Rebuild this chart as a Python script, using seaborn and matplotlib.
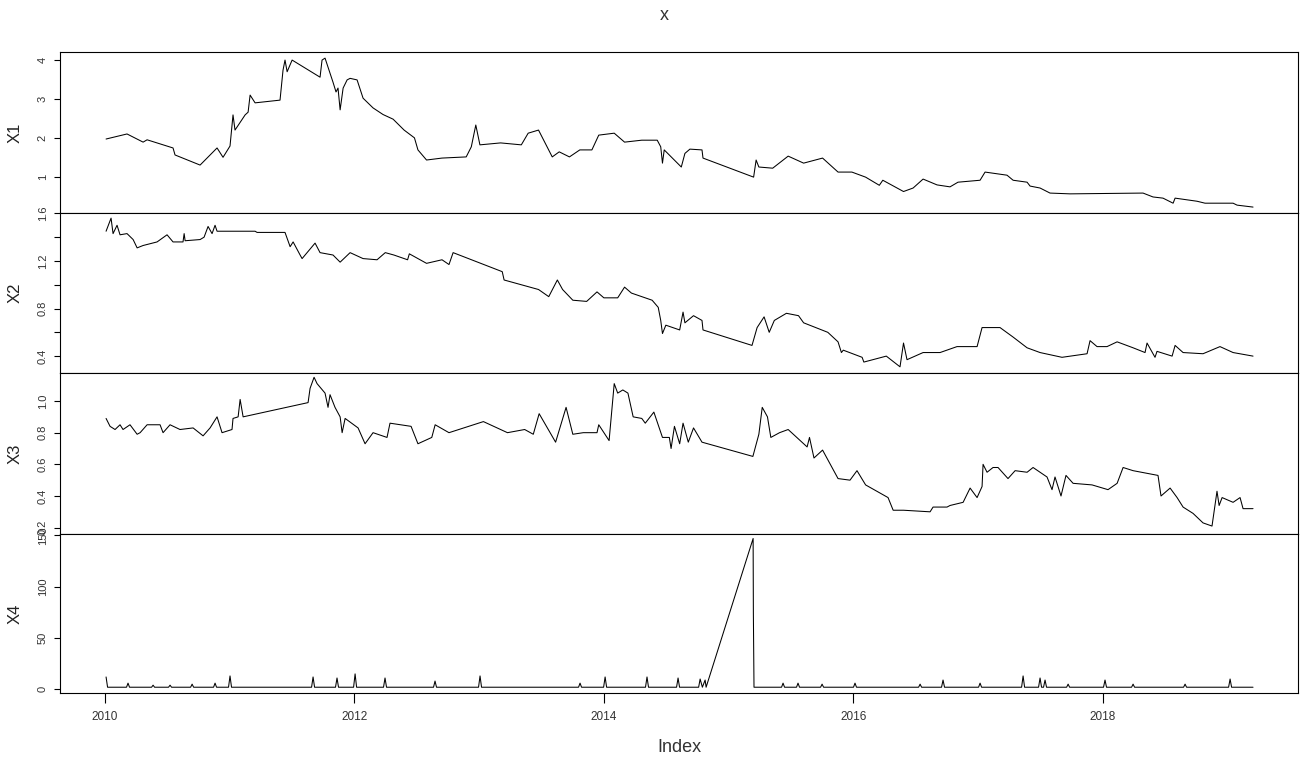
import pandas as pd
import seaborn as sns
import matplotlib.pyplot as plt
from matplotlib import font_manager
from matplotlib.ticker import FixedLocator, FormatStrFormatter

# decimal years and values, one pair of lists per series
x1_year = [
    2010.008, 2010.176, 2010.305, 2010.337, 2010.545, 2010.561, 2010.762, 2010.898, 2010.946, 2011.002,
    2011.026, 2011.042, 2011.123, 2011.147, 2011.163, 2011.203, 2011.403, 2011.427, 2011.443, 2011.460,
    2011.500, 2011.724, 2011.740, 2011.764, 2011.828, 2011.852, 2011.868, 2011.885, 2011.909, 2011.941,
    2011.965, 2012.021, 2012.069, 2012.149, 2012.229, 2012.310, 2012.398, 2012.481, 2012.509, 2012.578,
    2012.702, 2012.896, 2012.937, 2012.973, 2013.006, 2013.172, 2013.338, 2013.393, 2013.476, 2013.586,
    2013.642, 2013.724, 2013.807, 2013.904, 2013.959, 2014.083, 2014.166, 2014.304, 2014.428, 2014.456,
    2014.470, 2014.484, 2014.621, 2014.650, 2014.690, 2014.787, 2014.795, 2015.201, 2015.221, 2015.243,
    2015.354, 2015.478, 2015.602, 2015.754, 2015.878, 2015.989, 2016.099, 2016.209, 2016.237, 2016.403,
    2016.480, 2016.560, 2016.672, 2016.776, 2016.840, 2017.017, 2017.057, 2017.233, 2017.282, 2017.394,
    2017.418, 2017.498, 2017.578, 2017.739, 2018.324, 2018.404, 2018.484, 2018.565, 2018.581, 2018.757,
    2018.821, 2019.046, 2019.078, 2019.206]
x1_value = [
    1.97, 2.10, 1.89, 1.95, 1.74, 1.56, 1.30, 1.74, 1.50, 1.79,
    2.59, 2.20, 2.59, 2.66, 3.10, 2.90, 2.97, 3.74, 4.00, 3.70,
    4.00, 3.56, 4.00, 4.05, 3.43, 3.18, 3.28, 2.72, 3.28, 3.49,
    3.53, 3.49, 3.02, 2.77, 2.60, 2.48, 2.20, 2.00, 1.69, 1.43,
    1.48, 1.51, 1.77, 2.33, 1.82, 1.87, 1.82, 2.12, 2.20, 1.51,
    1.64, 1.51, 1.69, 1.69, 2.07, 2.12, 1.89, 1.94, 1.94, 1.77,
    1.35, 1.69, 1.25, 1.60, 1.71, 1.69, 1.48, 0.99, 1.43, 1.25,
    1.22, 1.53, 1.35, 1.48, 1.12, 1.12, 0.99, 0.78, 0.91, 0.62,
    0.71, 0.94, 0.79, 0.74, 0.86, 0.91, 1.12, 1.04, 0.91, 0.86,
    0.76, 0.71, 0.58, 0.56, 0.58, 0.48, 0.45, 0.32, 0.45, 0.37,
    0.32, 0.32, 0.27, 0.22]

x2_year = [
    2010.008, 2010.048, 2010.064, 2010.096, 2010.120, 2010.176, 2010.225, 2010.257, 2010.305, 2010.417,
    2010.497, 2010.545, 2010.625, 2010.634, 2010.642, 2010.762, 2010.794, 2010.826, 2010.858, 2010.882,
    2010.898, 2011.203, 2011.219, 2011.443, 2011.484, 2011.508, 2011.564, 2011.580, 2011.620, 2011.684,
    2011.724, 2011.828, 2011.885, 2011.965, 2012.069, 2012.181, 2012.247, 2012.316, 2012.426, 2012.440,
    2012.578, 2012.702, 2012.758, 2012.791, 2013.185, 2013.200, 2013.338, 2013.476, 2013.558, 2013.627,
    2013.669, 2013.751, 2013.862, 2013.945, 2014.000, 2014.111, 2014.166, 2014.221, 2014.387, 2014.436,
    2014.456, 2014.470, 2014.497, 2014.608, 2014.635, 2014.650, 2014.719, 2014.787, 2014.795, 2015.188,
    2015.229, 2015.285, 2015.326, 2015.367, 2015.464, 2015.561, 2015.602, 2015.796, 2015.878, 2015.905,
    2015.920, 2016.071, 2016.085, 2016.265, 2016.375, 2016.403, 2016.431, 2016.560, 2016.696, 2016.832,
    2016.993, 2017.033, 2017.177, 2017.282, 2017.394, 2017.498, 2017.674, 2017.875, 2017.899, 2017.955,
    2018.035, 2018.116, 2018.244, 2018.340, 2018.356, 2018.420, 2018.436, 2018.557, 2018.581, 2018.645,
    2018.805, 2018.941, 2019.046, 2019.206]
x2_value = [
    1.45, 1.56, 1.43, 1.50, 1.42, 1.43, 1.38, 1.31, 1.33, 1.36,
    1.42, 1.36, 1.36, 1.43, 1.37, 1.38, 1.40, 1.49, 1.43, 1.50,
    1.45, 1.45, 1.44, 1.44, 1.32, 1.36, 1.25, 1.22, 1.27, 1.35,
    1.27, 1.25, 1.19, 1.27, 1.22, 1.21, 1.27, 1.25, 1.21, 1.26,
    1.18, 1.21, 1.17, 1.27, 1.11, 1.04, 1.00, 0.96, 0.90, 1.04,
    0.96, 0.87, 0.86, 0.94, 0.89, 0.89, 0.98, 0.93, 0.87, 0.81,
    0.70, 0.59, 0.66, 0.62, 0.77, 0.68, 0.74, 0.70, 0.62, 0.49,
    0.64, 0.73, 0.60, 0.70, 0.76, 0.74, 0.68, 0.60, 0.52, 0.43,
    0.45, 0.39, 0.35, 0.40, 0.31, 0.51, 0.37, 0.43, 0.43, 0.48,
    0.48, 0.64, 0.64, 0.56, 0.47, 0.43, 0.39, 0.42, 0.53, 0.48,
    0.48, 0.52, 0.47, 0.43, 0.51, 0.39, 0.44, 0.40, 0.49, 0.43,
    0.42, 0.48, 0.43, 0.40]

x3_year = [
    2010.008, 2010.040, 2010.080, 2010.120, 2010.144, 2010.200, 2010.257, 2010.281, 2010.337, 2010.441,
    2010.465, 2010.521, 2010.601, 2010.706, 2010.786, 2010.842, 2010.898, 2010.938, 2011.018, 2011.026,
    2011.067, 2011.083, 2011.107, 2011.628, 2011.644, 2011.676, 2011.700, 2011.764, 2011.788, 2011.804,
    2011.844, 2011.885, 2011.901, 2011.925, 2012.029, 2012.085, 2012.149, 2012.261, 2012.285, 2012.454,
    2012.509, 2012.620, 2012.647, 2012.758, 2013.034, 2013.227, 2013.365, 2013.434, 2013.481, 2013.613,
    2013.697, 2013.751, 2013.835, 2013.945, 2013.959, 2014.042, 2014.083, 2014.111, 2014.152, 2014.193,
    2014.235, 2014.304, 2014.332, 2014.401, 2014.470, 2014.525, 2014.539, 2014.566, 2014.608, 2014.635,
    2014.677, 2014.719, 2014.787, 2015.195, 2015.243, 2015.270, 2015.312, 2015.339, 2015.409, 2015.478,
    2015.630, 2015.649, 2015.685, 2015.754, 2015.878, 2015.974, 2016.030, 2016.099, 2016.279, 2016.320,
    2016.403, 2016.616, 2016.640, 2016.752, 2016.776, 2016.881, 2016.937, 2016.993, 2017.033, 2017.041,
    2017.073, 2017.121, 2017.161, 2017.241, 2017.298, 2017.394, 2017.442, 2017.554, 2017.594, 2017.618,
    2017.666, 2017.706, 2017.763, 2017.915, 2018.043, 2018.116, 2018.164, 2018.244, 2018.444, 2018.468,
    2018.541, 2018.597, 2018.645, 2018.725, 2018.805, 2018.877, 2018.917, 2018.934, 2018.958, 2019.046,
    2019.102, 2019.126, 2019.206]
x3_value = [
    0.89, 0.84, 0.82, 0.85, 0.82, 0.85, 0.79, 0.80, 0.85, 0.85,
    0.80, 0.85, 0.82, 0.83, 0.78, 0.83, 0.90, 0.80, 0.82, 0.89,
    0.90, 1.01, 0.90, 0.99, 1.08, 1.15, 1.11, 1.05, 0.96, 1.04,
    0.96, 0.90, 0.80, 0.89, 0.83, 0.73, 0.80, 0.77, 0.86, 0.84,
    0.73, 0.77, 0.85, 0.80, 0.87, 0.80, 0.82, 0.79, 0.92, 0.74,
    0.96, 0.79, 0.80, 0.80, 0.85, 0.75, 1.11, 1.05, 1.07, 1.05,
    0.90, 0.89, 0.86, 0.93, 0.77, 0.77, 0.70, 0.84, 0.73, 0.86,
    0.74, 0.83, 0.74, 0.65, 0.79, 0.96, 0.90, 0.77, 0.80, 0.82,
    0.71, 0.77, 0.64, 0.69, 0.51, 0.50, 0.56, 0.47, 0.39, 0.31,
    0.31, 0.30, 0.33, 0.33, 0.34, 0.36, 0.45, 0.39, 0.46, 0.60,
    0.55, 0.58, 0.58, 0.51, 0.56, 0.55, 0.58, 0.52, 0.44, 0.52,
    0.40, 0.53, 0.48, 0.47, 0.44, 0.48, 0.58, 0.56, 0.53, 0.40,
    0.45, 0.39, 0.33, 0.29, 0.23, 0.21, 0.43, 0.34, 0.39, 0.36,
    0.39, 0.32, 0.32]

x4_year = [
    2010.008, 2010.020,
    2010.172, 2010.184, 2010.196,
    2010.373, 2010.385, 2010.397,
    2010.509, 2010.521, 2010.533,
    2010.686, 2010.698, 2010.710,
    2010.870, 2010.882, 2010.894,
    2010.990, 2011.002, 2011.014,
    2011.656, 2011.668, 2011.680,
    2011.848, 2011.860, 2011.872,
    2011.993, 2012.005, 2012.017,
    2012.233, 2012.245, 2012.257,
    2012.634, 2012.646, 2012.658,
    2012.995, 2013.007, 2013.019,
    2013.797, 2013.809, 2013.821,
    2013.998, 2014.010, 2014.022,
    2014.334, 2014.346, 2014.358,
    2014.583, 2014.595, 2014.607,
    2014.760, 2014.772, 2014.790, 2014.812, 2014.820,
    2015.197, 2015.199, 2015.204,
    2015.425, 2015.437, 2015.449,
    2015.545, 2015.557, 2015.569,
    2015.738, 2015.750, 2015.762,
    2016.002, 2016.014, 2016.026,
    2016.524, 2016.536, 2016.548,
    2016.708, 2016.720, 2016.732,
    2017.005, 2017.017, 2017.029,
    2017.350, 2017.362, 2017.374,
    2017.486, 2017.498, 2017.510, 2017.526, 2017.538, 2017.550,
    2017.711, 2017.723, 2017.735,
    2018.007, 2018.019, 2018.031,
    2018.232, 2018.244, 2018.256,
    2018.649, 2018.661, 2018.673,
    2019.010, 2019.022, 2019.034,
    2019.206]
x4_value = [
    12, 2,
    2, 6, 2,
    2, 4, 2,
    2, 4, 2,
    2, 5, 2,
    2, 6, 2,
    2, 13, 2,
    2, 12, 2,
    2, 11, 2,
    2, 15, 2,
    2, 11, 2,
    2, 8, 2,
    2, 13, 2,
    2, 6, 2,
    2, 12, 2,
    2, 12, 2,
    2, 11, 2,
    2, 10, 2, 9, 2,
    147, 74, 2,
    2, 6, 2,
    2, 6, 2,
    2, 5, 2,
    2, 6, 2,
    2, 5, 2,
    2, 9, 2,
    2, 6, 2,
    2, 13, 2,
    2, 11, 2, 2, 9, 2,
    2, 5, 2,
    2, 9, 2,
    2, 5, 2,
    2, 5, 2,
    2, 10, 2,
    2]

series_names = ["X1", "X2", "X3", "X4"]
year_ticks = [2010, 2012, 2014, 2016, 2018]

sns.set_theme(style="white")
installed = {f.name for f in font_manager.fontManager.ttflist}
narrow = "Liberation Sans Narrow" if "Liberation Sans Narrow" in installed else "Liberation Sans"
plt.rcParams["font.family"] = ["Liberation Sans", "DejaVu Sans"]

frames = [
    pd.DataFrame({"year": x1_year, "value": x1_value}),
    pd.DataFrame({"year": x2_year, "value": x2_value}),
    pd.DataFrame({"year": x3_year, "value": x3_value}),
    pd.DataFrame({"year": x4_year, "value": x4_value}),
]

# panel layout (figure fractions) and axis settings
bottoms = [0.7197, 0.5092, 0.2974, 0.0882]
heights = [0.2118, 0.2105, 0.2118, 0.2092]
ylims = [(0.067, 4.206), (0.258, 1.603), (0.160, 1.177), (-3.6, 151.4)]
major = [[1, 2, 3, 4], [0.4, 0.8, 1.2, 1.6], [0.2, 0.4, 0.6, 0.8, 1.0], [0, 50, 100, 150]]
minor = [[], [0.6, 1.0, 1.4], [], []]
fmts = ["%d", "%.1f", "%.1f", "%d"]

fig = plt.figure(figsize=(13, 7.6), dpi=100)

for i, df in enumerate(frames):
    ax = fig.add_axes([0.0462, bottoms[i], 0.9523, heights[i]])
    sns.lineplot(data=df, x="year", y="value", ax=ax, color="black",
                 linewidth=0.75, estimator=None, sort=False)
    ax.set_xlim(2009.639, 2019.567)
    ax.set_ylim(*ylims[i])
    for s in ax.spines.values():
        s.set_visible(True)
        s.set_color("black")
        s.set_linewidth(0.8)

    ax.yaxis.set_major_locator(FixedLocator(major[i]))
    ax.yaxis.set_minor_locator(FixedLocator(minor[i]))
    ax.yaxis.set_major_formatter(FormatStrFormatter(fmts[i]))
    ax.tick_params(axis="y", which="both", left=True, length=4.3, width=0.8,
                   pad=4.5, labelsize=8, colors="black", direction="out")
    for t in ax.get_yticklabels():
        t.set_rotation(90)
        t.set_va("center")
        t.set_color("#333333")

    ax.set_ylabel(series_names[i], fontsize=12, color="#222222")
    ax.yaxis.set_label_coords(-0.0299, 0.5)
    ax.set_xlabel("")

    if i < 3:
        ax.tick_params(axis="x", bottom=False, labelbottom=False)
    else:
        ax.set_xticks(year_ticks)
        ax.set_xticklabels([str(y) for y in year_ticks], fontfamily=narrow,
                           fontsize=8.5, color="#333333")
        ax.tick_params(axis="x", bottom=True, length=7, width=0.8,
                       pad=6, colors="black", direction="out")
        for t in ax.get_xticklabels():
            t.set_color("#333333")

fig.text(679 / 1300, 1 - 747 / 760, "Index", ha="center", va="center",
         fontsize=13, family=narrow, color="#333333")
fig.text(664 / 1300, 1 - 15 / 760, "x", ha="center", va="center",
         fontsize=13, family=narrow, color="#333333")

fig.savefig("out.png", dpi=100)
